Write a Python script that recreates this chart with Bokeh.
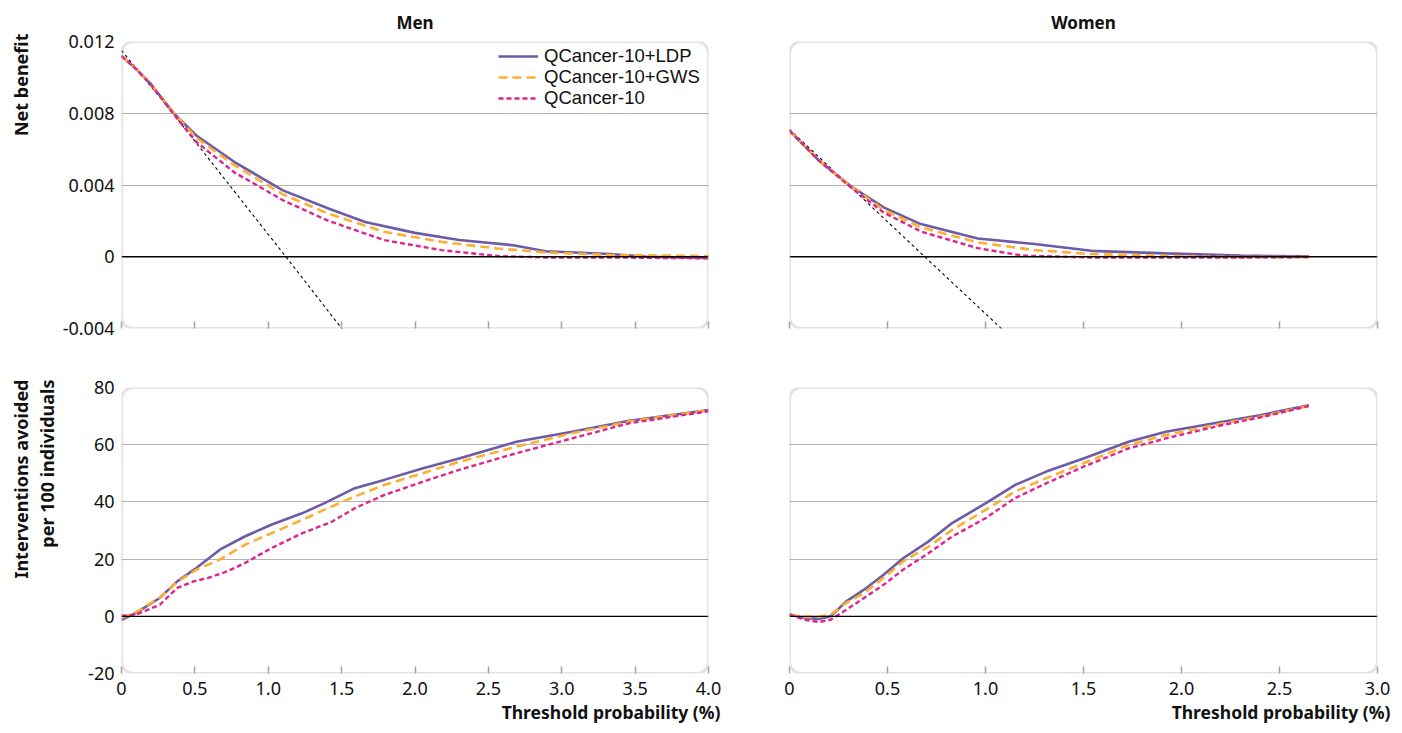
from bokeh.plotting import figure
from bokeh.layouts import gridplot
from bokeh.models import (Range1d, FixedTicker, BoxAnnotation, Span, Title, LinearAxis,
                          Legend, LegendItem, CustomJSTickFormatter)
from bokeh.embed import file_html
from bokeh.resources import INLINE

# ---------------- data ----------------
# Men, net benefit
men_nb_ldp_x = [0, 0.10, 0.20, 0.36, 0.51, 0.77, 1.10, 1.41, 1.66, 2.00, 2.30, 2.66, 2.89, 3.33, 3.58, 4.00]
men_nb_ldp_y = [0.0112, 0.01046, 0.00963, 0.00796, 0.00676, 0.00528, 0.0037, 0.00269, 0.00194, 0.00133,
                0.00093, 0.00065, 0.00031, 0.00015, 0.0, -0.00007]
men_nb_gws_x = [0, 0.10, 0.20, 0.36, 0.51, 0.77, 1.10, 1.41, 1.79, 2.18, 2.56, 2.89, 3.33, 4.00]
men_nb_gws_y = [0.0112, 0.01046, 0.00963, 0.0080, 0.00663, 0.0051, 0.00348, 0.0024, 0.00139, 0.00083,
                0.00046, 0.00024, 0.0001, 0.00004]
men_nb_q_x = [0, 0.10, 0.20, 0.36, 0.51, 0.77, 1.10, 1.41, 1.79, 2.18, 2.56, 2.89, 3.33, 4.00]
men_nb_q_y = [0.0112, 0.01046, 0.0096, 0.0079, 0.0064, 0.0047, 0.00315, 0.0020, 0.00093, 0.00037,
              0.00004, -0.00004, -0.00004, -0.00009]
men_all_x = [0, 0.35, 1.12, 1.52]
men_all_y = [0.0115, 0.008, 0.0, -0.0042]

# Women, net benefit
wom_nb_ldp_x = [0, 0.15, 0.31, 0.48, 0.67, 0.96, 1.25, 1.54, 1.92, 2.30, 2.65]
wom_nb_ldp_y = [0.00703, 0.00536, 0.00396, 0.00275, 0.00182, 0.00102, 0.00071, 0.00033, 0.00019, 0.00006, 0.00002]
wom_nb_gws_x = [0, 0.15, 0.31, 0.48, 0.67, 0.96, 1.25, 1.54, 1.92, 2.30, 2.65]
wom_nb_gws_y = [0.00703, 0.00536, 0.00396, 0.00262, 0.00164, 0.0008, 0.00037, 0.00015, 0.00004, -0.00002, -0.00002]
wom_nb_q_x = [0, 0.15, 0.31, 0.48, 0.67, 0.96, 1.19, 1.54, 1.92, 2.30, 2.65]
wom_nb_q_y = [0.00703, 0.00536, 0.0039, 0.00247, 0.00141, 0.00048, 0.00006, -0.00004, -0.00005, -0.00004, -0.00002]
wom_all_x = [0, 0.69, 1.10]
wom_all_y = [0.0071, 0.0, -0.0042]

# Men, interventions avoided per 100
men_ia_ldp_x = [0, 0.10, 0.26, 0.38, 0.51, 0.67, 0.84, 1.02, 1.23, 1.38, 1.59, 1.79, 2.05, 2.30, 2.69, 3.07, 3.45, 4.00]
men_ia_ldp_y = [-1.2, 1.2, 6.4, 12.2, 16.9, 23.3, 27.9, 32, 36, 39.5, 44.8, 47.7, 51.7, 55.2, 61, 64.5, 68.3, 72.1]
men_ia_gws_x = [0, 0.10, 0.26, 0.38, 0.51, 0.67, 0.84, 1.02, 1.23, 1.38, 1.59, 1.79, 2.05, 2.30, 2.69, 3.07, 3.45, 4.00]
men_ia_gws_y = [-0.5, 1.5, 6.5, 12, 16.3, 19.8, 25, 29, 33.7, 37.2, 41.9, 45.9, 50, 54, 59.3, 64, 68, 72.1]
men_ia_q_x = [0, 0.10, 0.26, 0.38, 0.49, 0.59, 0.72, 0.84, 1.02, 1.23, 1.43, 1.59, 1.79, 2.05, 2.30, 2.69, 3.07, 3.45, 4.00]
men_ia_q_y = [0.2, 0.6, 4.0, 9.9, 12.2, 13.4, 15.7, 18.6, 23.8, 29, 33, 37.8, 42.4, 47, 51.2, 57, 62.2, 67.4, 71.7]

# Women, interventions avoided per 100
wom_ia_x = [0, 0.077, 0.15, 0.21, 0.29, 0.38, 0.48, 0.58, 0.71, 0.83, 1.0, 1.15, 1.31, 1.5, 1.73, 1.92, 2.21, 2.4, 2.65]
wom_ia_ldp_y = [0.6, -0.6, -0.9, 0, 5.2, 9.3, 14.5, 20.3, 26.2, 32.6, 39.5, 45.9, 50.6, 55.2, 61, 64.5, 68, 70.3, 73.8]
wom_ia_gws_y = [0.6, -0.2, -0.2, 0.6, 4.7, 8.1, 13.4, 19.2, 24.4, 30.2, 37.2, 43.6, 48.3, 53.5, 59.9, 63.4, 67.4, 69.8, 73.6]
wom_ia_q_y = [0.6, -1.2, -2.0, -1.2, 2.3, 6.4, 11, 16.3, 22.1, 27.9, 34.3, 41.3, 46.5, 52.3, 58.7, 62.2, 66.9, 69.5, 73.5]

series_names = ["QCancer-10+LDP", "QCancer-10+GWS", "QCancer-10"]
men_xticks = [0, 0.5, 1.0, 1.5, 2.0, 2.5, 3.0, 3.5, 4.0]
wom_xticks = [0, 0.5, 1.0, 1.5, 2.0, 2.5, 3.0]
nb_yticks = [-0.004, 0, 0.004, 0.008, 0.012]
ia_yticks = [-20, 0, 20, 40, 60, 80]
panel_titles = ["Men", "Women"]
xlabel = "Threshold probability (%)"
nb_label = "Net benefit"
ia_label = ["Interventions avoided", "per 100 individuals"]

# ---------------- styles ----------------
FONT = "Noto Sans"
LEGEND_FONT = "Liberation Sans"
C_LDP = "#6c5ba7"
C_GWS = "#fbb034"
C_Q = "#e0248c"
GRID = "#b4b4b4"
FRAME = "#a2a2a2"
TXT = "#111111"


def bold_title(text, align, offset, standoff, size="18px"):
    t = Title(text=text, align=align, offset=offset, standoff=standoff)
    t.text_font = FONT
    t.text_font_style = "bold"
    t.text_font_size = size
    t.text_color = TXT
    return t


def spacer_axis(n, tick_at):
    # an axis whose only (invisible, unlabelled) tick reserves n pixels of room
    return LinearAxis(ticker=FixedTicker(ticks=[tick_at], minor_ticks=[]), major_tick_out=n, major_tick_in=0,
                      major_label_standoff=0, axis_line_color=None, major_tick_line_color="white",
                      major_tick_line_alpha=0.0, minor_tick_out=0, minor_tick_in=0,
                      minor_tick_line_color=None,
                      formatter=CustomJSTickFormatter(code="return '';"))


def make_fig(xmax, ymin, ymax, xticks, yticks, yfmt, show_y, show_x, fw, fh, bl, br, bt, bb, title=None):
    p = figure(frame_width=fw, frame_height=fh, x_range=Range1d(0, xmax), y_range=Range1d(ymin, ymax),
               output_backend="svg", toolbar_location=None,
               min_border_left=bl, min_border_right=br, min_border_top=bt, min_border_bottom=bb)
    p.outline_line_color = None
    p.background_fill_color = "white"
    p.border_fill_color = "white"
    # x axis
    xa = p.xaxis[0]
    xa.ticker = FixedTicker(ticks=xticks)
    if show_x:
        xa.formatter = CustomJSTickFormatter(code="return tick == 0 ? '0' : tick.toFixed(1);")
    else:
        xa.formatter = CustomJSTickFormatter(code="return '';")
    xa.axis_line_color = None
    xa.major_tick_in = 7
    xa.major_tick_out = 0
    xa.major_tick_line_color = FRAME
    xa.major_tick_line_width = 1.5
    xa.minor_tick_line_color = None
    xa.major_label_text_font = FONT
    xa.major_label_text_font_size = "18px"
    xa.major_label_text_color = TXT
    xa.major_label_standoff = 8 if show_x else 0
    # y axis
    ya = p.yaxis[0]
    ya.ticker = FixedTicker(ticks=yticks)
    ya.formatter = CustomJSTickFormatter(code=yfmt)
    ya.axis_line_color = None
    ya.major_tick_line_color = None
    ya.major_tick_out = 0
    ya.major_tick_in = 0
    ya.minor_tick_line_color = None
    ya.major_label_text_font = FONT
    ya.major_label_text_font_size = "18px"
    ya.major_label_text_color = TXT
    ya.major_label_standoff = 7
    if not show_y:
        ya.visible = False
    p.xgrid.visible = False
    p.ygrid.ticker = FixedTicker(ticks=yticks)
    p.ygrid.grid_line_color = GRID
    p.ygrid.grid_line_width = 1.2
    p.add_layout(Span(location=0, dimension="width", line_color="black", line_width=1.3))
    p.add_layout(BoxAnnotation(left=0, right=xmax, bottom=ymin, top=ymax, border_radius=12,
                               fill_color=None, fill_alpha=0, line_color=FRAME, line_width=3))
    if title:
        p.title.text = title
        p.title.align = "center"
        p.title.text_font = FONT
        p.title.text_font_style = "bold"
        p.title.text_font_size = "17px"
        p.title.text_color = TXT
        p.title.standoff = 16
    return p


def add_series(p, xs_list, ys_list, legend=False):
    r1 = p.line(xs_list[0], ys_list[0], line_color=C_LDP, line_width=2.6)
    r2 = p.line(xs_list[1], ys_list[1], line_color=C_GWS, line_width=2.6, line_dash="9 5")
    r3 = p.line(xs_list[2], ys_list[2], line_color=C_Q, line_width=2.4, line_dash="5 3")
    if legend:
        # one legend per row, each placed by its bottom-left corner (frame pixels)
        fh = p.frame_height
        for i, r in enumerate([r1, r2, r3]):
            lg = Legend(items=[LegendItem(label=series_names[i], renderers=[r])],
                        location=(377, fh - 25.5 - 21 * i))
            lg.border_line_color = None
            lg.background_fill_alpha = 0
            lg.label_text_font = LEGEND_FONT
            lg.label_text_font_size = "18.5px"
            lg.label_text_color = TXT
            lg.glyph_width = 40
            lg.glyph_height = 18
            lg.label_height = 18
            lg.padding = 0
            lg.margin = 0
            lg.label_standoff = 6
            p.add_layout(lg)


nb_fmt = "return tick == 0 ? '0' : tick.toFixed(3);"
ia_fmt = "return tick.toFixed(0);"

LB, RB_L, LB_R, RB = 121, 40, 41, 20

# top-left: men net benefit
p_tl = make_fig(4.0, -0.004, 0.012, men_xticks, nb_yticks, nb_fmt, True, False, 587, 287, LB, RB_L, 41, 28,
                title=panel_titles[0])
p_tl.line(men_all_x, men_all_y, line_color="black", line_width=1.1, line_dash="3 3")
add_series(p_tl, [men_nb_ldp_x, men_nb_gws_x, men_nb_q_x], [men_nb_ldp_y, men_nb_gws_y, men_nb_q_y], legend=True)
p_tl.add_layout(spacer_axis(27, 0.002), "left")
p_tl.add_layout(bold_title(nb_label, "right", -8, 0), "left")

# top-right: women net benefit
p_tr = make_fig(3.0, -0.004, 0.012, wom_xticks, nb_yticks, nb_fmt, False, False, 588, 287, LB_R, RB, 41, 28,
                title=panel_titles[1])
p_tr.line(wom_all_x, wom_all_y, line_color="black", line_width=1.1, line_dash="3 3")
add_series(p_tr, [wom_nb_ldp_x, wom_nb_gws_x, wom_nb_q_x], [wom_nb_ldp_y, wom_nb_gws_y, wom_nb_q_y])

# bottom-left: men interventions avoided
p_bl = make_fig(4.0, -20, 80, men_xticks, ia_yticks, ia_fmt, True, True, 587, 286, LB, RB_L, 31, 58)
add_series(p_bl, [men_ia_ldp_x, men_ia_gws_x, men_ia_q_x], [men_ia_ldp_y, men_ia_gws_y, men_ia_q_y])
p_bl.add_layout(spacer_axis(27, 10), "left")
p_bl.add_layout(bold_title(ia_label[1], "right", -8, 0), "left")
p_bl.add_layout(bold_title(ia_label[0], "right", -8, 0), "left")
p_bl.add_layout(bold_title(xlabel, "right", -12, 0, size="17.5px"), "below")

# bottom-right: women interventions avoided
p_br = make_fig(3.0, -20, 80, wom_xticks, ia_yticks, ia_fmt, False, True, 588, 286, LB_R, RB, 31, 58)
add_series(p_br, [wom_ia_x, wom_ia_x, wom_ia_x], [wom_ia_ldp_y, wom_ia_gws_y, wom_ia_q_y])
p_br.add_layout(bold_title(xlabel, "right", -13, 0, size="17.5px"), "below")

grid = gridplot([[p_tl, p_tr], [p_bl, p_br]], toolbar_location=None)

open("out.html", "w").write(file_html(grid, INLINE))
